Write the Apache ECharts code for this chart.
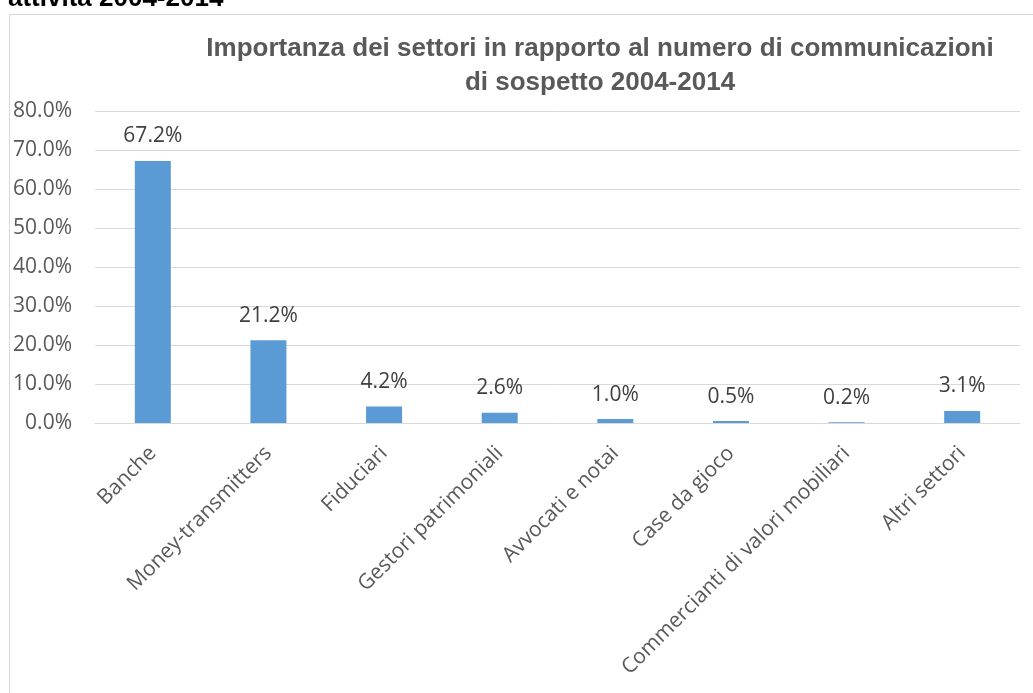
<!DOCTYPE html>
<html>
<head>
<meta charset="utf-8">
<style>
  html, body { margin: 0; padding: 0; background: #fff; }
  #chart { width: 1033px; height: 693px; }
</style>
<script src="https://cdn.jsdelivr.net/npm/echarts@6/dist/echarts.min.js"></script>
</head>
<body>
<div id="chart"></div>
<script>
// Sectors and their share of suspicious-transaction reports, 2004-2014
const categories = [
  'Banche',
  'Money-transmitters',
  'Fiduciari',
  'Gestori patrimoniali',
  'Avvocati e notai',
  'Case da gioco',
  'Commercianti di valori mobiliari',
  'Altri settori'
];
const shares = [67.2, 21.2, 4.2, 2.6, 1.0, 0.5, 0.2, 3.1];
const yTicks = { min: 0, max: 80, interval: 10 };

const chart = echarts.init(document.getElementById('chart'));
const labelFont = '"Open Sans", "Noto Sans", sans-serif';

chart.setOption({
  animation: false,
  backgroundColor: '#ffffff',
  graphic: [
    {
      type: 'text',
      left: 8,
      top: -14,
      style: {
        text: 'attività 2004-2014',
        font: 'bold 26px "Liberation Sans", Arial, sans-serif',
        fill: '#000000'
      }
    },
    {
      type: 'rect',
      shape: { x: 9.5, y: 14.5, width: 1040, height: 700 },
      style: { fill: 'none', stroke: '#d9d9d9', lineWidth: 1 }
    },
    {
      type: 'text',
      x: 600,
      y: 32,
      style: {
        text: 'Importanza dei settori in rapporto al numero di communicazioni\ndi sospetto 2004-2014',
        font: 'bold 26px "Liberation Sans", Arial, sans-serif',
        fill: '#595959',
        align: 'center',
        lineHeight: 34
      }
    }
  ],
  grid: { left: 95, right: 13, top: 111, bottom: 270, containLabel: false },
  xAxis: {
    type: 'category',
    data: categories,
    axisLine: { lineStyle: { color: '#d9d9d9', width: 1 } },
    axisTick: { show: false },
    axisLabel: {
      rotate: 45,
      interval: 0,
      margin: 27,
      color: '#595959',
      fontSize: 21,
      fontFamily: labelFont
    }
  },
  yAxis: {
    type: 'value',
    min: yTicks.min,
    max: yTicks.max,
    interval: yTicks.interval,
    axisLine: { show: false },
    axisTick: { show: false },
    splitLine: { lineStyle: { color: '#d9d9d9', width: 1 } },
    axisLabel: {
      margin: 23,
      color: '#595959',
      fontSize: 21,
      fontFamily: labelFont,
      formatter: v => v.toFixed(1) + '%'
    }
  },
  series: [{
    type: 'bar',
    data: shares,
    barWidth: 36,
    itemStyle: { color: '#5b9bd5' },
    label: {
      show: true,
      position: 'top',
      distance: 14,
      color: '#404040',
      fontSize: 21,
      fontFamily: labelFont,
      formatter: p => p.value.toFixed(1) + '%'
    }
  }]
});
</script>
</body>
</html>
